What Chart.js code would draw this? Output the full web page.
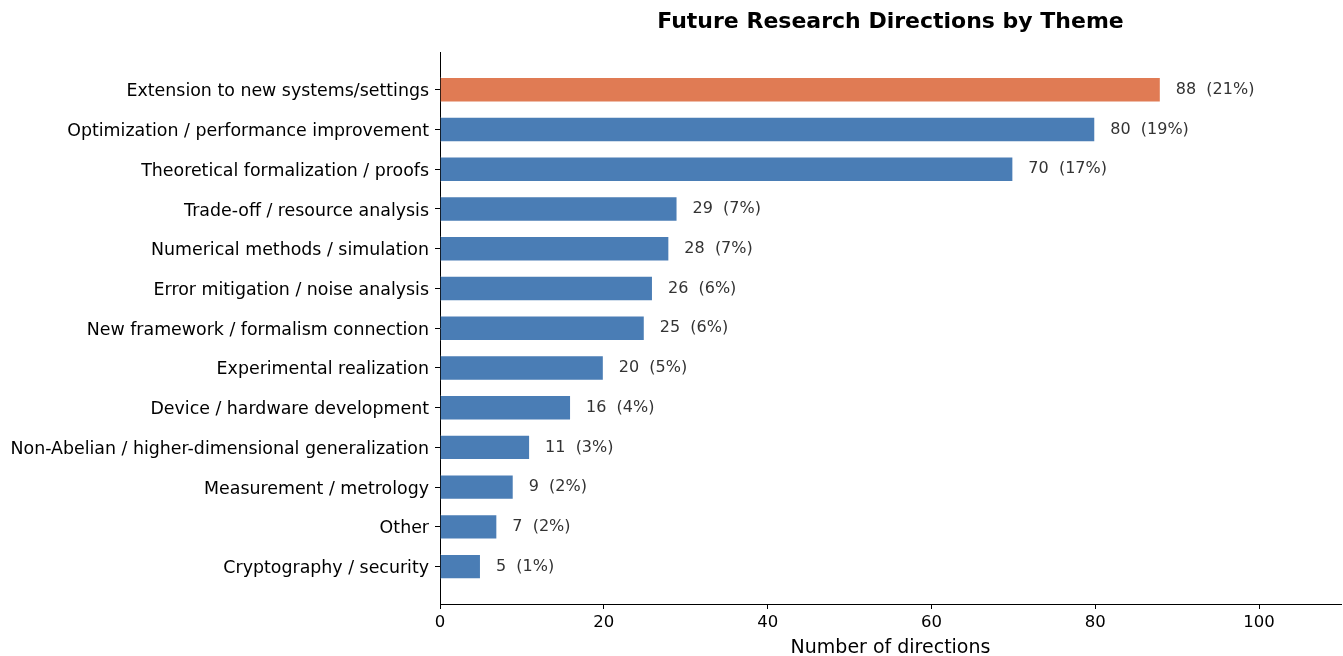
<!DOCTYPE html>
<html>
<head>
<meta charset="utf-8">
<script src="https://cdn.jsdelivr.net/npm/chart.js@4"></script>
<style>
  html, body { margin: 0; padding: 0; background: #fff; }
  #wrap { width: 1343px; height: 656px; }
</style>
</head>
<body>
<div id="wrap"><canvas id="myChart"></canvas></div>
<script>
// themes, top to bottom
const themes = [
  "Extension to new systems/settings",
  "Optimization / performance improvement",
  "Theoretical formalization / proofs",
  "Trade-off / resource analysis",
  "Numerical methods / simulation",
  "Error mitigation / noise analysis",
  "New framework / formalism connection",
  "Experimental realization",
  "Device / hardware development",
  "Non-Abelian / higher-dimensional generalization",
  "Measurement / metrology",
  "Other",
  "Cryptography / security"
];
const counts = [88, 80, 70, 29, 28, 26, 25, 20, 16, 11, 9, 7, 5];
const xTicks = [0, 20, 40, 60, 80, 100];

const total = counts.reduce((a, b) => a + b, 0);
const barColors = counts.map((v, i) => i === 0 ? "#e07b54" : "#4a7db5");
const FONT = "'DejaVu Sans', sans-serif";

// value labels at the end of each bar
const valueLabels = {
  id: 'valueLabels',
  afterDatasetsDraw(chart) {
    const ctx = chart.ctx;
    const meta = chart.getDatasetMeta(0);
    ctx.save();
    ctx.font = "16px " + FONT;
    ctx.fillStyle = "#333333";
    ctx.textBaseline = "middle";
    meta.data.forEach((bar, i) => {
      const pct = Math.round(counts[i] / total * 100);
      ctx.fillText(counts[i] + "  (" + pct + "%)", bar.x + 15, bar.y);
    });
    ctx.restore();
  }
};

new Chart("myChart", {
  type: "bar",
  data: {
    datasets: [{
      data: counts.map((v, i) => ({ x: v, y: i })),
      backgroundColor: barColors,
      borderColor: "rgba(255,255,255,0.6)",
      borderWidth: 1,
      barPercentage: 0.64,
      categoryPercentage: 1
    }]
  },
  options: {
    indexAxis: 'y',
    responsive: true,
    maintainAspectRatio: false,
    animation: false,
    layout: { padding: { left: 0, right: 2, top: 0, bottom: 0 } },
    plugins: {
      legend: { display: false },
      tooltip: { enabled: false },
      title: {
        display: true,
        fullSize: false,
        text: "Future Research Directions by Theme",
        color: "#000",
        font: { family: FONT, size: 22, weight: "bold" },
        padding: { top: 9, bottom: 17 }
      }
    },
    scales: {
      x: {
        type: 'linear',
        min: 0,
        max: 110,
        afterBuildTicks(scale) {
          scale.ticks = xTicks.map(v => ({ value: v }));
        },
        afterFit(scale) { scale.height = 52; },
        grid: { drawOnChartArea: false, tickLength: 5, color: "#000", tickWidth: 1 },
        border: { display: true, color: "#000", width: 1 },
        ticks: { color: "#000", font: { family: FONT, size: 16.5 }, padding: 4, maxRotation: 0 },
        title: {
          display: true,
          text: "Number of directions",
          color: "#000",
          font: { family: FONT, size: 19 },
          padding: { top: 0, bottom: -3 }
        }
      },
      y: {
        type: 'linear',
        reverse: true,
        offset: false,
        min: -0.941,
        max: 12.941,
        afterBuildTicks(scale) {
          scale.ticks = themes.map((t, i) => ({ value: i }));
        },
        afterFit(scale) { scale.width = 440; },
        grid: { offset: false, drawOnChartArea: false, tickLength: 5, color: "#000", tickWidth: 1 },
        border: { display: true, color: "#000", width: 1 },
        ticks: {
          color: "#000",
          font: { family: FONT, size: 17.4 },
          padding: 6,
          labelOffset: 2,
          autoSkip: false,
          callback: (v) => themes[v]
        }
      }
    }
  },
  plugins: [valueLabels]
});
</script>
</body>
</html>
